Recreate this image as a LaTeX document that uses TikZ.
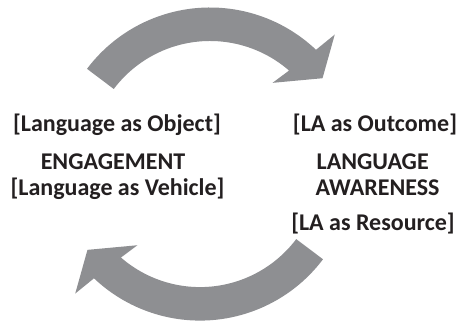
\documentclass[tikz,border=0pt]{standalone}
\usepackage{fontspec}
\setmainfont{Carlito}
\begin{document}
\begin{tikzpicture}[x=1pt,y=1pt,
  cyclearrow/.style={fill=arrowgrey,draw=none},
  label/.style={font=\bfseries\fontsize{24}{28}\selectfont,text=textdark,anchor=base,inner sep=0pt}]
\definecolor{arrowgrey}{RGB}{142,143,146}
\definecolor{textdark}{RGB}{35,31,32}
\useasboundingbox[fill=white] (0,0) rectangle (459,328);

% curved block arrow around a centre; #1 = rotation
\newcommand{\cyclearrowshape}[1]{%
  \fill[cyclearrow,rotate=#1]
    (143:154) arc[start angle=143,end angle=46.5,radius=154]
    -- (45.5:178) -- (36.5:140) -- (51.5:100.5) -- (49:120.5)
    arc[start angle=49,end angle=143,radius=120.5] -- cycle;}

\begin{scope}[shift={(210,166.5)}]
  \cyclearrowshape{0}
\end{scope}
\begin{scope}[shift={(200,161.4)}]
  \cyclearrowshape{180}
\end{scope}

% left column
\node[label] (obj)  at (117,196.5) {[Language as Object]};
\node[label] (eng)  at (113,158)   {ENGAGEMENT};
\node[label] (veh)  at (117.5,132.5) {[Language as Vehicle]};
% right column
\node[label] (out)  at (375,196.5) {[LA as Outcome]};
\node[label] (lang) at (372.7,158) {LANGUAGE};
\node[label] (aw)   at (377.5,132.5) {AWARENESS};
\node[label] (res)  at (373,97)    {[LA as Resource]};
\end{tikzpicture}
\end{document}
